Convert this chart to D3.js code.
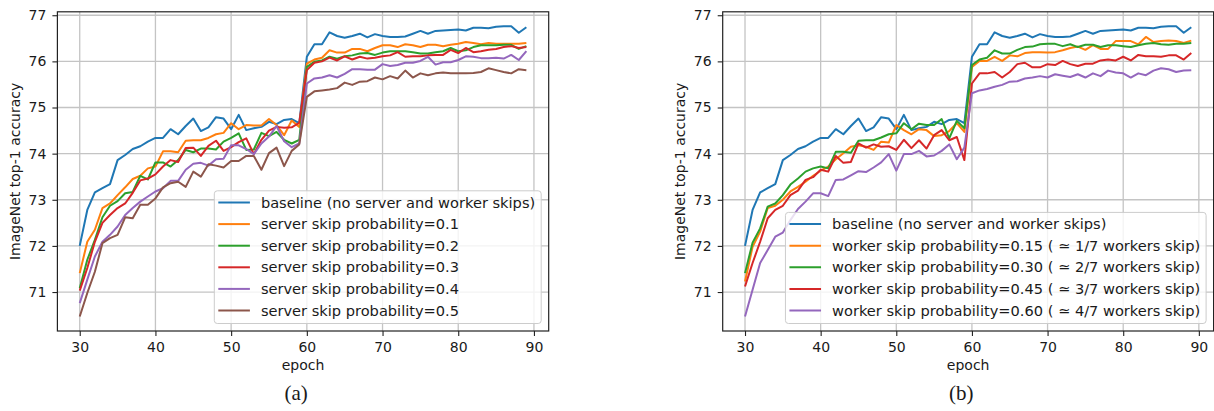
<!DOCTYPE html>
<html>
<head>
<meta charset="utf-8">
<script src="https://cdn.jsdelivr.net/npm/d3@7"></script>
<style>
  body { margin: 0; background: #fff; }
  svg { display: block; }
  text { font-family: "DejaVu Sans", sans-serif; fill: #1a1a1a; }
</style>
</head>
<body>
<svg id="chart" width="1214" height="411"></svg>
<script>
// epochs 30..89, one value per epoch
const epochs = d3.range(30, 90);
const xTicks = [30, 40, 50, 60, 70, 80, 90];
const yTicks = [71, 72, 73, 74, 75, 76, 77];

const baseline = [
  72.00, 72.78, 73.16, 73.25, 73.34, 73.86, 73.97, 74.10, 74.16, 74.26,
  74.34, 74.34, 74.53, 74.42, 74.60, 74.76, 74.49, 74.57, 74.79, 74.76,
  74.53, 74.84, 74.51, 74.55, 74.58, 74.69, 74.64, 74.73, 74.75, 74.66,
  76.10, 76.37, 76.37, 76.63, 76.55, 76.51, 76.55, 76.60, 76.52, 76.59,
  76.55, 76.53, 76.53, 76.54, 76.60, 76.66, 76.60, 76.66, 76.67, 76.68,
  76.69, 76.67, 76.73, 76.73, 76.72, 76.75, 76.76, 76.76, 76.62, 76.74
];

// panel (a): server skips
const serverSkip01 = [
  71.41, 72.09, 72.35, 72.82, 72.92, 73.10, 73.27, 73.45, 73.52, 73.68,
  73.72, 74.05, 74.05, 74.03, 74.28, 74.29, 74.29, 74.34, 74.42, 74.45,
  74.66, 74.53, 74.62, 74.61, 74.61, 74.75, 74.62, 74.40, 74.72, 74.58,
  75.95, 76.04, 76.08, 76.24, 76.19, 76.19, 76.27, 76.27, 76.22, 76.29,
  76.35, 76.35, 76.31, 76.37, 76.35, 76.31, 76.36, 76.36, 76.33, 76.36,
  76.38, 76.42, 76.40, 76.37, 76.40, 76.38, 76.38, 76.38, 76.38, 76.40
];
const serverSkip02 = [
  71.08, 71.70, 72.13, 72.62, 72.87, 72.97, 73.14, 73.17, 73.52, 73.44,
  73.81, 73.81, 73.72, 73.86, 74.08, 74.03, 74.11, 74.11, 74.09, 74.26,
  74.34, 74.44, 74.08, 74.09, 74.45, 74.38, 74.47, 74.30, 74.22, 74.30,
  75.88, 75.99, 76.02, 76.10, 76.06, 76.11, 76.13, 76.17, 76.18, 76.14,
  76.19, 76.22, 76.22, 76.22, 76.20, 76.17, 76.17, 76.20, 76.22, 76.29,
  76.22, 76.24, 76.31, 76.35, 76.35, 76.35, 76.36, 76.36, 76.27, 76.33
];
const serverSkip03 = [
  71.03, 71.52, 72.09, 72.50, 72.67, 72.82, 72.92, 73.15, 73.42, 73.46,
  73.55, 73.72, 73.86, 73.82, 74.12, 74.13, 73.95, 74.17, 74.28, 74.06,
  74.14, 74.25, 74.33, 73.99, 74.30, 74.50, 74.58, 74.56, 74.57, 74.67,
  75.81, 75.97, 76.00, 76.08, 76.02, 76.11, 76.04, 76.10, 76.06, 76.08,
  76.11, 76.13, 76.20, 76.10, 76.11, 76.11, 76.13, 76.14, 76.14, 76.25,
  76.18, 76.29, 76.20, 76.22, 76.25, 76.27, 76.31, 76.33, 76.29, 76.31
];
const serverSkip04 = [
  70.76, 71.27, 71.77, 72.09, 72.24, 72.42, 72.67, 72.82, 72.96, 73.07,
  73.18, 73.25, 73.41, 73.41, 73.65, 73.78, 73.80, 73.74, 73.88, 73.89,
  74.18, 74.18, 74.10, 73.99, 74.22, 74.37, 74.60, 74.27, 74.14, 74.22,
  75.52, 75.63, 75.65, 75.70, 75.65, 75.73, 75.83, 75.83, 75.82, 75.82,
  75.94, 75.90, 75.92, 75.97, 75.97, 76.01, 76.10, 75.93, 75.98, 75.98,
  76.03, 76.11, 76.10, 76.07, 76.07, 76.08, 76.06, 76.14, 76.03, 76.22
];
const serverSkip05 = [
  70.47, 70.98, 71.44, 72.06, 72.17, 72.24, 72.62, 72.60, 72.89, 72.89,
  73.03, 73.27, 73.36, 73.39, 73.28, 73.61, 73.50, 73.77, 73.74, 73.70,
  73.84, 73.84, 73.95, 73.95, 73.65, 74.01, 74.13, 73.73, 74.06, 74.20,
  75.23, 75.35, 75.37, 75.39, 75.42, 75.54, 75.49, 75.56, 75.57, 75.65,
  75.61, 75.68, 75.63, 75.80, 75.65, 75.74, 75.70, 75.74, 75.76, 75.74,
  75.74, 75.74, 75.75, 75.77, 75.85, 75.81, 75.77, 75.74, 75.83, 75.81
];

// panel (b): worker skips
const workerSkip015 = [
  71.23, 71.98, 72.31, 72.82, 72.87, 73.00, 73.18, 73.28, 73.39, 73.52,
  73.63, 73.72, 73.88, 74.01, 74.15, 74.18, 74.15, 74.08, 74.26, 74.24,
  74.62, 74.51, 74.42, 74.53, 74.51, 74.38, 74.40, 74.49, 74.66, 74.47,
  75.88, 76.01, 76.01, 76.10, 76.01, 76.13, 76.11, 76.18, 76.20, 76.20,
  76.19, 76.20, 76.24, 76.29, 76.32, 76.25, 76.35, 76.27, 76.27, 76.44,
  76.44, 76.44, 76.37, 76.53, 76.42, 76.44, 76.45, 76.44, 76.40, 76.45
];
const workerSkip030 = [
  71.41, 72.07, 72.38, 72.85, 72.92, 73.10, 73.33, 73.46, 73.61, 73.68,
  73.72, 73.68, 74.04, 74.04, 74.02, 74.28, 74.29, 74.29, 74.35, 74.42,
  74.44, 74.66, 74.53, 74.65, 74.62, 74.62, 74.75, 74.33, 74.71, 74.55,
  75.92, 76.04, 76.08, 76.24, 76.17, 76.17, 76.25, 76.31, 76.32, 76.37,
  76.38, 76.38, 76.33, 76.37, 76.31, 76.36, 76.36, 76.31, 76.35, 76.35,
  76.33, 76.31, 76.35, 76.38, 76.40, 76.37, 76.36, 76.38, 76.38, 76.40
];
const workerSkip045 = [
  71.12, 71.63, 72.09, 72.60, 72.78, 72.87, 73.10, 73.20, 73.43, 73.49,
  73.65, 73.61, 73.95, 73.80, 73.82, 74.22, 74.13, 74.20, 74.15, 74.16,
  74.08, 74.30, 74.12, 74.29, 74.11, 74.40, 74.51, 74.29, 74.36, 73.86,
  75.52, 75.74, 75.74, 75.77, 75.65, 75.77, 75.94, 75.97, 75.87, 75.87,
  75.94, 75.92, 76.01, 75.94, 75.90, 75.95, 75.95, 76.02, 76.04, 76.02,
  76.10, 76.02, 76.14, 76.11, 76.11, 76.10, 76.13, 76.13, 76.04, 76.18
];
const workerSkip060 = [
  70.47, 71.05, 71.63, 71.91, 72.20, 72.29, 72.56, 72.80, 72.96, 73.14,
  73.14, 73.08, 73.43, 73.44, 73.53, 73.62, 73.60, 73.70, 73.81, 73.99,
  73.63, 73.99, 73.99, 74.06, 73.94, 73.96, 74.06, 74.20, 73.88, 74.13,
  75.31, 75.37, 75.40, 75.45, 75.49, 75.56, 75.57, 75.63, 75.65, 75.68,
  75.65, 75.72, 75.69, 75.66, 75.72, 75.65, 75.74, 75.68, 75.80, 75.76,
  75.74, 75.65, 75.74, 75.70, 75.80, 75.85, 75.83, 75.77, 75.80, 75.81
];

const serverLabels = [
  'baseline (no server and worker skips)',
  'server skip probability=0.1',
  'server skip probability=0.2',
  'server skip probability=0.3',
  'server skip probability=0.4',
  'server skip probability=0.5'
];
const workerLabels = [
  'baseline (no server and worker skips)',
  'worker skip probability=0.15 ( \u2243 1/7 workers skip)',
  'worker skip probability=0.30 ( \u2243 2/7 workers skip)',
  'worker skip probability=0.45 ( \u2243 3/7 workers skip)',
  'worker skip probability=0.60 ( \u2243 4/7 workers skip)'
];
const colors = ['#1f77b4', '#ff7f0e', '#2ca02c', '#d62728', '#9467bd', '#8c564b'];

const svg = d3.select('#chart');

function padded(ext) {
  const m = (ext[1] - ext[0]) * 0.05;
  return [ext[0] - m, ext[1] + m];
}

function drawPanel(series, labels, left, right, caption) {
  const top = 11.8, bottom = 331;
  const allY = series.flat();
  const x = d3.scaleLinear().domain(padded(d3.extent(epochs))).range([left, right]);
  const y = d3.scaleLinear().domain(padded(d3.extent(allY))).range([bottom, top]);
  const g = svg.append('g');

  // grid
  g.append('g').selectAll('line').data(xTicks).enter().append('line')
    .attr('x1', d => x(d)).attr('x2', d => x(d))
    .attr('y1', top).attr('y2', bottom)
    .attr('stroke', '#c4c4c4').attr('stroke-width', 1.3);
  g.append('g').selectAll('line').data(yTicks).enter().append('line')
    .attr('x1', left).attr('x2', right)
    .attr('y1', d => y(d)).attr('y2', d => y(d))
    .attr('stroke', '#c4c4c4').attr('stroke-width', 1.3);

  // series
  const line = d3.line().x((d, i) => x(epochs[i])).y(d => y(d));
  g.append('g').selectAll('path').data(series).enter().append('path')
    .attr('d', line)
    .attr('fill', 'none')
    .attr('stroke', (d, i) => colors[i])
    .attr('stroke-width', 2)
    .attr('stroke-linejoin', 'round');

  // axes
  const xa = g.append('g').attr('transform', 'translate(0,' + bottom + ')')
    .call(d3.axisBottom(x).tickValues(xTicks).tickSize(5).tickPadding(6).tickFormat(d3.format('d')));
  const ya = g.append('g').attr('transform', 'translate(' + left + ',0)')
    .call(d3.axisLeft(y).tickValues(yTicks).tickSize(5).tickPadding(6).tickFormat(d3.format('d')));
  [xa, ya].forEach(a => {
    a.select('.domain').remove();
    a.selectAll('.tick line').attr('stroke', '#222').attr('stroke-width', 1.1);
    a.selectAll('.tick text').style('font-size', '14px').style('font-family', '"DejaVu Sans", sans-serif').attr('fill', '#1a1a1a');
  });

  // spines
  g.append('rect')
    .attr('x', left).attr('y', top)
    .attr('width', right - left).attr('height', bottom - top)
    .attr('fill', 'none').attr('stroke', '#222').attr('stroke-width', 1.2);

  // labels
  g.append('text')
    .attr('x', (left + right) / 2).attr('y', 369.5)
    .attr('text-anchor', 'middle').style('font-size', '14px')
    .text('epoch');
  g.append('text')
    .attr('transform', 'translate(' + (left - 37.9) + ',' + ((top + bottom) / 2) + ') rotate(-90)')
    .attr('text-anchor', 'middle').style('font-size', '14px')
    .text('ImageNet top-1 accuracy');
  g.append('text')
    .attr('x', (left + right) / 2 - 7).attr('y', 400)
    .attr('text-anchor', 'middle')
    .style('font-family', '"Liberation Serif", "Times New Roman", serif')
    .style('font-size', '21px')
    .text(caption);

  // legend
  const rowH = 21.6;
  const leg = g.append('g');
  const box = leg.append('rect')
    .attr('rx', 3).attr('fill', 'white').attr('fill-opacity', 0.8)
    .attr('stroke', '#cccccc').attr('stroke-width', 1);
  const rows = leg.selectAll('g.row').data(labels).enter().append('g').attr('class', 'row')
    .attr('transform', (d, i) => 'translate(0,' + (11.7 + i * rowH) + ')');
  rows.append('line')
    .attr('x1', 4).attr('x2', 35.6).attr('y1', 0).attr('y2', 0)
    .attr('stroke', (d, i) => colors[i]).attr('stroke-width', 2);
  const texts = rows.append('text')
    .attr('x', 46.6).attr('dy', '0.35em').style('font-size', '14.6px')
    .text(d => d);
  let maxW = 0;
  texts.each(function () { maxW = Math.max(maxW, this.getComputedTextLength()); });
  const bw = 46.6 + maxW + 6;
  const bh = 11.7 + (labels.length - 1) * rowH + 13;
  box.attr('width', bw).attr('height', bh);
  leg.attr('transform', 'translate(' + (right - 7.5 - bw) + ',' + (bottom - 7.5 - bh) + ')');
}

drawPanel([baseline, serverSkip01, serverSkip02, serverSkip03, serverSkip04, serverSkip05],
  serverLabels, 57.4, 548.7, '(a)');
drawPanel([baseline, workerSkip015, workerSkip030, workerSkip045, workerSkip060],
  workerLabels, 722.7, 1213.6, '(b)');
</script>
</body>
</html>
